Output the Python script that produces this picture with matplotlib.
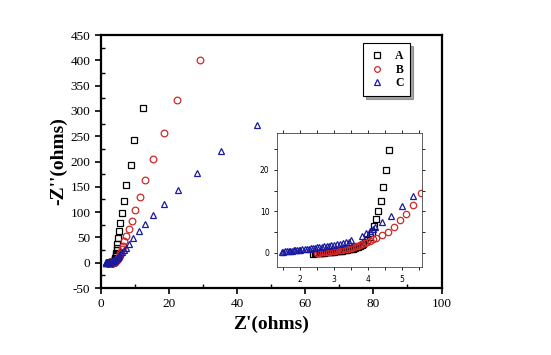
import matplotlib
matplotlib.use("Agg")
import matplotlib.pyplot as plt
from matplotlib.ticker import MultipleLocator

# ---- data (Z' , -Z'') ----
a_x = [2.39, 2.43, 2.47, 2.51, 2.55, 2.59, 2.63, 2.67, 2.71, 2.75, 2.79, 2.83, 2.87, 2.91,
       2.95, 2.99, 3.03, 3.07, 3.11, 3.15, 3.19, 3.23, 3.27, 3.31, 3.35, 3.39, 3.43, 3.47,
       3.51, 3.55, 3.59, 3.63, 3.67, 3.71, 3.76, 3.81, 3.86, 3.92, 3.98, 4.05, 4.12,
       4.19, 4.23, 4.30, 4.37, 4.45, 4.52, 4.63, 4.75, 4.9, 5.1, 5.3, 5.7, 6.2, 6.75,
       7.5, 8.9, 9.8, 12.5]
a_y = [-0.2, -0.15, -0.1, -0.08, -0.05, 0.0, 0.02, 0.05, 0.08, 0.1, 0.13, 0.16, 0.2, 0.23,
       0.27, 0.3, 0.34, 0.38, 0.42, 0.46, 0.5, 0.55, 0.6, 0.65, 0.7, 0.76, 0.82, 0.88,
       0.95, 1.02, 1.1, 1.2, 1.3, 1.42, 1.6, 1.8, 2.1, 2.5, 3.0, 3.8, 4.8,
       6.5, 8.1, 10.0, 12.6, 15.8, 19.9, 24.9, 30, 37, 49, 63, 78, 98, 122,
       154, 193, 242, 305]

b_x = [2.50, 2.56, 2.62, 2.68, 2.74, 2.80, 2.86, 2.92, 2.98, 3.04, 3.10, 3.16, 3.22, 3.28,
       3.34, 3.40, 3.46, 3.52, 3.58, 3.64, 3.70, 3.76, 3.83, 3.90, 3.98, 4.06, 4.15, 4.24,
       4.41, 4.59, 4.76, 4.94, 5.12, 5.33, 5.55, 5.8, 6.1, 6.4, 6.8, 7.4, 8.2, 9.1, 10.0,
       11.4, 13.1, 15.3, 18.6, 22.5, 29.0]
b_y = [0.0, 0.05, 0.1, 0.15, 0.2, 0.26, 0.32, 0.38, 0.45, 0.52, 0.6, 0.68, 0.76, 0.85,
       0.95, 1.05, 1.15, 1.27, 1.4, 1.55, 1.7, 1.9, 2.1, 2.35, 2.6, 2.9, 3.25, 3.6,
       4.3, 5.1, 6.3, 7.9, 9.4, 11.6, 14.4, 20, 27, 34, 42, 53, 67, 83, 104,
       130, 163, 204, 256, 321, 401]

c_x = [1.47, 1.51, 1.56, 1.61, 1.66, 1.71, 1.76, 1.81, 1.86, 1.91, 1.96, 2.01, 2.07, 2.13,
       2.19, 2.25, 2.31, 2.37, 2.43, 2.50, 2.57, 2.64, 2.71, 2.78, 2.85, 2.92, 3.00, 3.08,
       3.16, 3.25, 3.34, 3.44, 3.49, 3.82, 3.95, 4.05, 4.15, 4.21, 4.42, 4.69, 4.99, 5.31,
       5.7, 6.2, 6.7, 7.3, 8.3, 9.6, 11.1, 13.0, 15.4, 18.7, 22.6, 28.2, 35.4, 45.8]
c_y = [0.1, 0.3, 0.35, 0.4, 0.45, 0.5, 0.55, 0.6, 0.65, 0.7, 0.75, 0.8, 0.86, 0.92,
       0.98, 1.04, 1.1, 1.16, 1.23, 1.3, 1.38, 1.46, 1.54, 1.63, 1.72, 1.82, 1.93, 2.05,
       2.18, 2.32, 2.5, 2.7, 3.1, 4.1, 4.7, 5.2, 5.8, 6.3, 7.5, 9.0, 11.2, 13.7,
       17, 20.5, 24.5, 29, 37, 48, 62, 76.5, 94, 117, 144, 178, 220, 272]

labels = ["A", "B", "C"]
colors = ["black", "#d02828", "#1a1aa0"]
markers = ["s", "o", "^"]
series = [(a_x, a_y), (b_x, b_y), (c_x, c_y)]

plt.rcParams["font.family"] = ["Liberation Serif", "DejaVu Serif"]
plt.rcParams["axes.unicode_minus"] = False

fig = plt.figure(figsize=(5.51, 3.55), dpi=100)
ax = fig.add_axes([0.1828, 0.1887, 0.6185, 0.7127])

for (x, y), lab, c, m in zip(series, labels, colors, markers):
    ax.plot(x, y, linestyle="none", marker=m, markersize=4.8, markerfacecolor="none",
            markeredgecolor=c, markeredgewidth=0.9, label=lab)

ax.set_xlim(0, 100)
ax.set_ylim(-50, 450)
ax.xaxis.set_major_locator(MultipleLocator(20))
ax.xaxis.set_minor_locator(MultipleLocator(10))
ax.yaxis.set_major_locator(MultipleLocator(50))
ax.yaxis.set_minor_locator(MultipleLocator(25))
ax.tick_params(which="major", direction="out", length=4, width=1.2, labelsize=9.5)
ax.tick_params(which="minor", direction="in", length=3, width=1.0)
for s in ax.spines.values():
    s.set_linewidth(1.6)
ax.set_xlabel("Z'(ohms)", fontsize=14, fontweight="bold", labelpad=4)
ax.set_ylabel("-Z''(ohms)", fontsize=14, fontweight="bold", labelpad=2)

leg = ax.legend(loc="upper left", bbox_to_anchor=(0.752, 0.99), frameon=True,
                fancybox=False, shadow=True, edgecolor="black", framealpha=1,
                prop={"weight": "bold", "size": 8.5}, handletextpad=0.9,
                borderpad=0.55, labelspacing=0.15, handlelength=1.3, markerscale=0.85)
leg.get_frame().set_linewidth(0.8)

# ---- inset ----
ins = fig.add_axes([0.5027, 0.248, 0.2633, 0.3774])
for (x, y), lab, c, m in zip(series, labels, colors, markers):
    ins.plot(x, y, linestyle="none", marker=m, markersize=4.6, markerfacecolor="none",
             markeredgecolor=c, markeredgewidth=0.9)
ins.set_xlim(1.32, 5.59)
ins.set_ylim(-3.4, 28.9)
ins.xaxis.set_major_locator(MultipleLocator(1))
ins.xaxis.set_minor_locator(MultipleLocator(0.5))
ins.yaxis.set_major_locator(MultipleLocator(10))
ins.yaxis.set_minor_locator(MultipleLocator(5))
ins.tick_params(which="both", direction="out", length=2, width=0.6, labelsize=5.5,
                top=True, right=True)
for t in ins.get_xticklabels() + ins.get_yticklabels():
    t.set_fontfamily("DejaVu Sans")
for s in ins.spines.values():
    s.set_linewidth(0.6)
    s.set_color("#444444")

fig.savefig("out.png", dpi=100)
